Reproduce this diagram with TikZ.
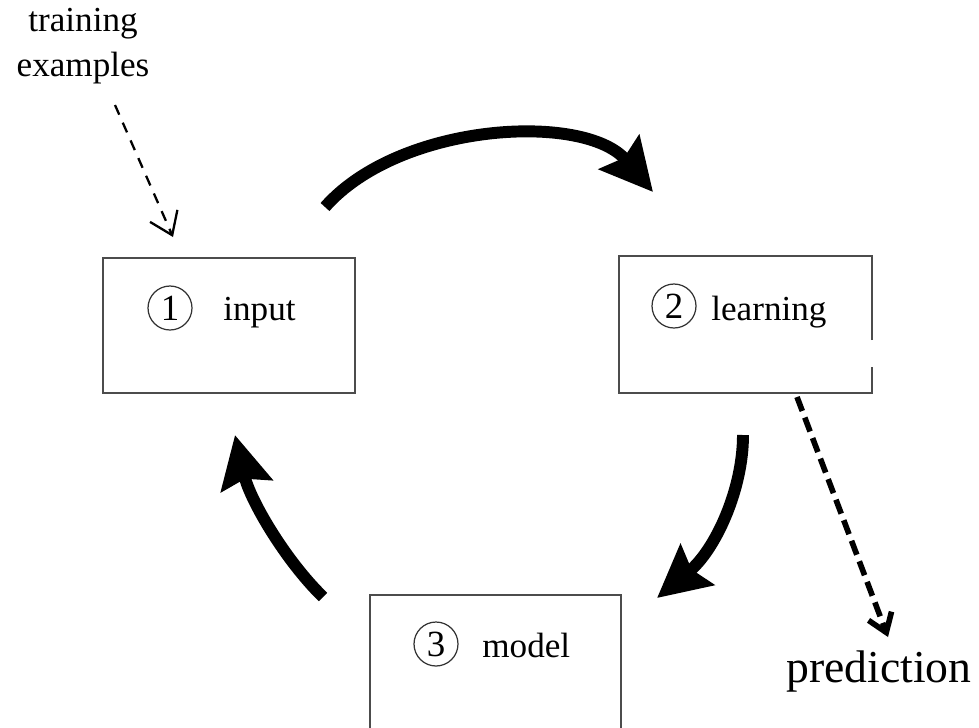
\documentclass[tikz,border=0pt]{standalone}
\usepackage{fontspec}
\setmainfont{Liberation Serif}
\usetikzlibrary{arrows.meta,calc}
\begin{document}
\begin{tikzpicture}[x=0.02cm,y=-0.02cm,
  boxline/.style={draw=black!70, line width=0.9pt},
  box/.style={boxline, minimum width=5.03cm, minimum height=2.7cm, inner sep=0},
  num/.style={circle, draw=black!80, line width=0.7pt, minimum size=0.88cm, inner sep=0, font=\fontsize{21}{24}\selectfont},
  lbl/.style={font=\fontsize{20}{24}\selectfont, inner sep=0},
  bigarrow/.style={line width=6.8pt, line cap=butt, -{Stealth[length=29.5pt,width=29.5pt,inset=4pt]}},
  thindash/.style={line width=1.3pt, dash pattern=on 6pt off 5pt, -{Straight Barb[length=12pt,width=17pt]}},
  thickdash/.style={line width=3.2pt, dash pattern=on 8.5pt off 4pt, -{Straight Barb[length=10pt,width=14pt]}}]
\useasboundingbox (0,0) rectangle (979,727);
\clip (0,0) rectangle (979,727);

% boxes
\node[box] (input) at (229,325.5) {};
\node[box, draw=none] (learn) at (745.5,324.5) {};
\draw[boxline] ($(learn.east)+(0,15.5)$) -- (learn.north east) -- (learn.north west) -- (learn.south west) -- (learn.south east) -- ($(learn.east)+(0,42.5)$);
\node[box] (model) at (495.5,662.5) {};

% labels inside boxes
\node[num] (n1) at (170,308) {1};
\node[lbl, anchor=base west] (t1) at (223,320) {input};
\node[num] (n2) at (674,306) {2};
\node[lbl, anchor=base west] (t2) at (711,320) {learning};
\node[num] (n3) at (436,644) {3};
\node[lbl, anchor=base west] (t3) at (482,657) {model};

% outside texts
\node[lbl, align=center, font=\fontsize{20}{26}\selectfont] (train) at (83,46) {training\\examples};
\node[lbl, anchor=base, font=\fontsize{26}{30}\selectfont] (pred) at (879,682) {prediction};

% cycle arrows
\coordinate (a1s) at (325,207);
\coordinate (a1e) at (653,192);
\coordinate (a2s) at (743,435);
\coordinate (a2e) at (657,598);
\coordinate (a3s) at (323,597);
\coordinate (a3e) at (235,435);
\draw[bigarrow] (a1s) .. controls (400,122) and (585,112) .. (a1e);
\draw[bigarrow] (a2s) .. controls (743,490) and (715,550) .. (a2e);
\draw[bigarrow] (a3s) .. controls (285,560) and (250,500) .. (a3e);

% dashed arrows
\coordinate (d1s) at (115,105);
\coordinate (d1e) at (173,237);
\draw[thindash] (d1s) -- (d1e);
\coordinate (d2s) at (797,397);
\coordinate (d2e) at (888,637);
\draw[thickdash] (d2s) -- (d2e);
\end{tikzpicture}
\end{document}
